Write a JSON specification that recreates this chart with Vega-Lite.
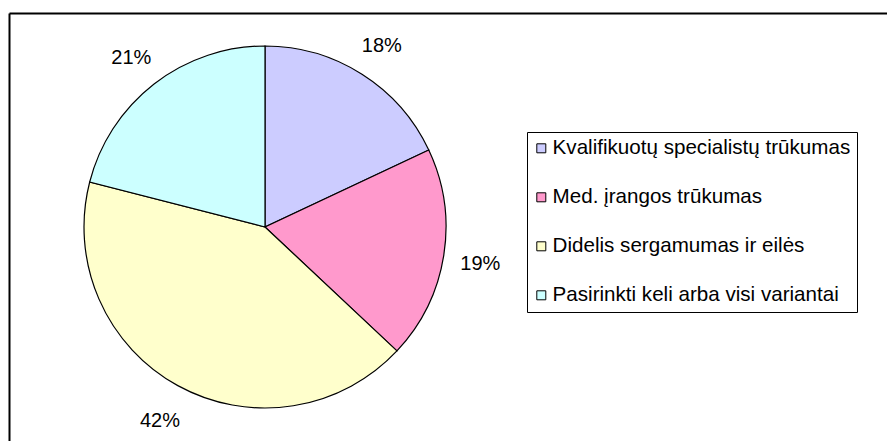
{
  "$schema": "https://vega.github.io/schema/vega-lite/v6.json",
  "width": 512,
  "height": 428,
  "autosize": {"type": "none"},
  "padding": {"left": 9, "top": 13, "right": 366, "bottom": 0},
  "background": "white",
  "config": {"view": {"stroke": null}, "font": "Liberation Sans"},
  "data": {
    "values": [
      {"nr": 1, "label": "Kvalifikuotų specialistų trūkumas", "pct": 0.18},
      {"nr": 2, "label": "Med. įrangos trūkumas", "pct": 0.19},
      {"nr": 3, "label": "Didelis sergamumas ir eilės", "pct": 0.42},
      {"nr": 4, "label": "Pasirinkti keli arba visi variantai", "pct": 0.21}
    ]
  },
  "layer": [
    {
      "mark": {"type": "point", "opacity": 0},
      "encoding": {
        "x": {"field": "pct", "type": "quantitative", "scale": {"domain": [0, 1], "range": [0, 878]},
              "axis": {"orient": "top", "domain": true, "domainColor": "black", "domainWidth": 2, "ticks": false, "labels": false, "grid": false, "title": null}},
        "y": {"field": "pct", "type": "quantitative", "scale": {"domain": [0, 1], "range": [0, 428]},
              "axis": {"orient": "left", "domain": true, "domainColor": "black", "domainWidth": 2, "ticks": false, "labels": false, "grid": false, "title": null}}
      }
    },
    {
      "mark": {"type": "arc", "outerRadius": 181, "stroke": "black", "strokeWidth": 1.2},
      "encoding": {
        "theta": {"field": "pct", "type": "quantitative", "stack": true},
        "order": {"field": "nr", "type": "quantitative"},
        "color": {
          "field": "label", "type": "nominal",
          "scale": {
            "domain": ["Kvalifikuotų specialistų trūkumas", "Med. įrangos trūkumas", "Didelis sergamumas ir eilės", "Pasirinkti keli arba visi variantai"],
            "range": ["#CCCCFF", "#FF99CC", "#FFFFCC", "#CCFFFF"]
          },
          "legend": {
            "orient": "none", "legendX": 518, "legendY": 119, "title": null,
            "strokeColor": "black", "padding": 6, "rowPadding": 28,
            "symbolType": "square", "symbolSize": 81, "symbolStrokeColor": "black", "symbolStrokeWidth": 1,
            "symbolOpacity": 1, "symbolOffset": -2,
            "labelFontSize": 20.6, "labelFont": "Liberation Sans", "labelColor": "black", "labelOffset": 1, "labelLimit": 500
          }
        }
      }
    },
    {
      "mark": {"type": "text", "radius": 218, "fontSize": 20, "font": "Liberation Sans", "color": "black", "dy": 3},
      "encoding": {
        "theta": {"field": "pct", "type": "quantitative", "stack": true},
        "order": {"field": "nr", "type": "quantitative"},
        "text": {"field": "pct", "type": "quantitative", "format": ".0%"}
      }
    }
  ]
}
